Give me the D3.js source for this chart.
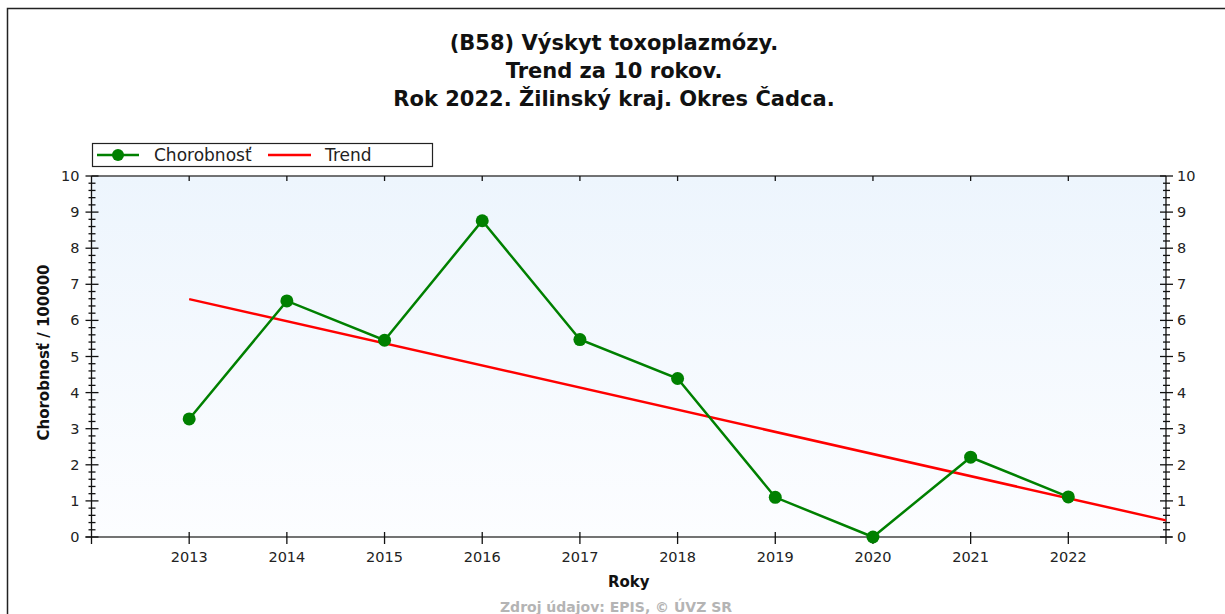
<!DOCTYPE html>
<html>
<head>
<meta charset="utf-8">
<script src="https://cdn.jsdelivr.net/npm/d3@7"></script>
<style>
  body { margin: 0; background: #fff; }
  svg { display: block; font-family: "DejaVu Sans", Verdana, sans-serif; }
</style>
</head>
<body>
<div id="chart"></div>
<script>
// data
var years = [2013, 2014, 2015, 2016, 2017, 2018, 2019, 2020, 2021, 2022];
var incidence = [3.27, 6.54, 5.45, 8.76, 5.47, 4.39, 1.1, 0, 2.21, 1.11];
var trendYears = [2013, 2023];
var trendValues = [6.59, 0.46];
var yTicks = [0, 1, 2, 3, 4, 5, 6, 7, 8, 9, 10];
var titleLines = ["(B58) Výskyt toxoplazmózy.", "Trend za 10 rokov.", "Rok 2022. Žilinský kraj. Okres Čadca."];
var legendItems = ["Chorobnosť", "Trend"];

var width = 1225, height = 614;
var margins = {top: 176, left: 91.5, right: 59, bottom: 77};

var svg = d3.select("#chart").append("svg")
  .attr("width", width)
  .attr("height", height);

// outer frame
svg.append("rect")
  .attr("x", 7.5).attr("y", 8.5)
  .attr("width", 1240).attr("height", 640)
  .attr("fill", "none")
  .attr("stroke", "#222")
  .attr("stroke-width", 1.5);

// titles
svg.selectAll("text.title")
  .data(titleLines)
  .enter().append("text")
  .attr("class", "title")
  .attr("x", 614)
  .attr("y", function (d, i) { return 50 + i * 28; })
  .attr("text-anchor", "middle")
  .style("font-size", "21px")
  .style("font-weight", "bold")
  .style("fill", "#111")
  .text(function (d) { return d; });

var x = d3.scaleLinear()
  .domain([2012, 2023])
  .range([margins.left, width - margins.right]);

var y = d3.scaleLinear()
  .domain([0, 10])
  .range([height - margins.bottom, margins.top]);

// plot background gradient
var grad = svg.append("defs").append("linearGradient")
  .attr("id", "bg").attr("x1", 0).attr("y1", 0).attr("x2", 0).attr("y2", 1);
grad.append("stop").attr("offset", "0%").attr("stop-color", "#edf5fd");
grad.append("stop").attr("offset", "100%").attr("stop-color", "#fcfdff");

svg.append("rect")
  .attr("x", x(2012)).attr("y", y(10))
  .attr("width", x(2023) - x(2012))
  .attr("height", y(0) - y(10))
  .attr("fill", "url(#bg)");

var axisG = svg.append("g")
  .attr("stroke", "#111")
  .attr("stroke-width", 1.3)
  .attr("fill", "none");

// frame lines of plot (top, bottom, left, right)
axisG.append("line").attr("x1", x(2012)).attr("x2", x(2023)).attr("y1", y(10)).attr("y2", y(10)).attr("stroke", "#444");
axisG.append("line").attr("x1", x(2012) - 6).attr("x2", x(2023) + 6).attr("y1", y(0)).attr("y2", y(0)).attr("stroke", "#444");
axisG.append("line").attr("x1", x(2012)).attr("x2", x(2012)).attr("y1", y(10)).attr("y2", y(0) + 7);
axisG.append("line").attr("x1", x(2023)).attr("x2", x(2023)).attr("y1", y(10)).attr("y2", y(0) + 7);

// minor y ticks every 0.2
var minor = d3.range(0, 50).map(function (i) { return i / 5; })
  .filter(function (v) { return Math.round(v * 5) % 5 !== 0; });

[x(2012), x(2023)].forEach(function (ax) {
  axisG.selectAll(null).data(minor).enter().append("line")
    .attr("x1", ax - 3).attr("x2", ax + 4)
    .attr("y1", function (d) { return y(d); })
    .attr("y2", function (d) { return y(d); });
  axisG.selectAll(null).data(yTicks).enter().append("line")
    .attr("x1", ax - 6).attr("x2", ax + 7)
    .attr("y1", function (d) { return y(d); })
    .attr("y2", function (d) { return y(d); });
});

// x ticks (bottom crossing, top inward)
axisG.selectAll(null).data(years).enter().append("line")
  .attr("x1", function (d) { return x(d); })
  .attr("x2", function (d) { return x(d); })
  .attr("y1", y(0) - 5).attr("y2", y(0) + 7);
axisG.selectAll(null).data(years).enter().append("line")
  .attr("x1", function (d) { return x(d); })
  .attr("x2", function (d) { return x(d); })
  .attr("y1", y(10)).attr("y2", y(10) + 5);

// tick labels
svg.selectAll("text.ylabL").data(yTicks).enter().append("text")
  .attr("x", x(2012) - 12)
  .attr("y", function (d) { return y(d) + 5; })
  .attr("text-anchor", "end")
  .style("font-size", "14.5px").style("fill", "#222")
  .text(function (d) { return d; });

svg.selectAll("text.ylabR").data(yTicks).enter().append("text")
  .attr("x", x(2023) + 11)
  .attr("y", function (d) { return y(d) + 5; })
  .attr("text-anchor", "start")
  .style("font-size", "14.5px").style("fill", "#222")
  .text(function (d) { return d; });

svg.selectAll("text.xlab").data(years).enter().append("text")
  .attr("x", function (d) { return x(d); })
  .attr("y", y(0) + 25)
  .attr("text-anchor", "middle")
  .style("font-size", "14.5px").style("fill", "#222")
  .text(function (d) { return d; });

// axis titles
svg.append("text")
  .attr("transform", "translate(49," + ((y(0) + y(10)) / 2 - 4) + ") rotate(-90)")
  .attr("text-anchor", "middle")
  .style("font-size", "15px").style("font-weight", "bold")
  .style("fill", "#111")
  .text("Chorobnosť / 100000");

svg.append("text")
  .attr("x", (x(2012) + x(2023)) / 2).attr("y", 587)
  .attr("text-anchor", "middle")
  .style("font-size", "15px").style("font-weight", "bold")
  .style("fill", "#111")
  .text("Roky");

svg.append("text")
  .attr("x", 616).attr("y", 612)
  .attr("text-anchor", "middle")
  .style("font-size", "14px").style("font-weight", "bold")
  .style("fill", "#b4b4b4")
  .text("Zdroj údajov: EPIS, © ÚVZ SR");

// series
var line = d3.line()
  .x(function (d) { return x(d[0]); })
  .y(function (d) { return y(d[1]); });

svg.append("path")
  .datum(d3.zip(trendYears, trendValues))
  .attr("d", line)
  .attr("fill", "none")
  .attr("stroke", "#ff0000")
  .attr("stroke-width", 2.5);

svg.append("path")
  .datum(d3.zip(years, incidence))
  .attr("d", line)
  .attr("fill", "none")
  .attr("stroke", "#008000")
  .attr("stroke-width", 2.5);

svg.selectAll("circle.pt")
  .data(d3.zip(years, incidence))
  .enter().append("circle")
  .attr("class", "pt")
  .attr("cx", function (d) { return x(d[0]); })
  .attr("cy", function (d) { return y(d[1]); })
  .attr("r", 6.5)
  .attr("fill", "#008000");

// legend
var lg = svg.append("g");
lg.append("rect")
  .attr("x", 92.5).attr("y", 143.5)
  .attr("width", 340).attr("height", 23)
  .attr("fill", "#fff").attr("stroke", "#222").attr("stroke-width", 1.2);
lg.append("line").attr("x1", 97).attr("x2", 139).attr("y1", 155).attr("y2", 155)
  .attr("stroke", "#008000").attr("stroke-width", 2.5);
lg.append("circle").attr("cx", 118).attr("cy", 155).attr("r", 6).attr("fill", "#008000");
lg.append("line").attr("x1", 268).attr("x2", 311).attr("y1", 155).attr("y2", 155)
  .attr("stroke", "#ff0000").attr("stroke-width", 2.5);
lg.selectAll("text").data(legendItems).enter().append("text")
  .attr("x", function (d, i) { return i === 0 ? 154 : 325; })
  .attr("y", 161)
  .style("font-size", "17px").style("fill", "#222")
  .text(function (d) { return d; });
</script>
</body>
</html>
